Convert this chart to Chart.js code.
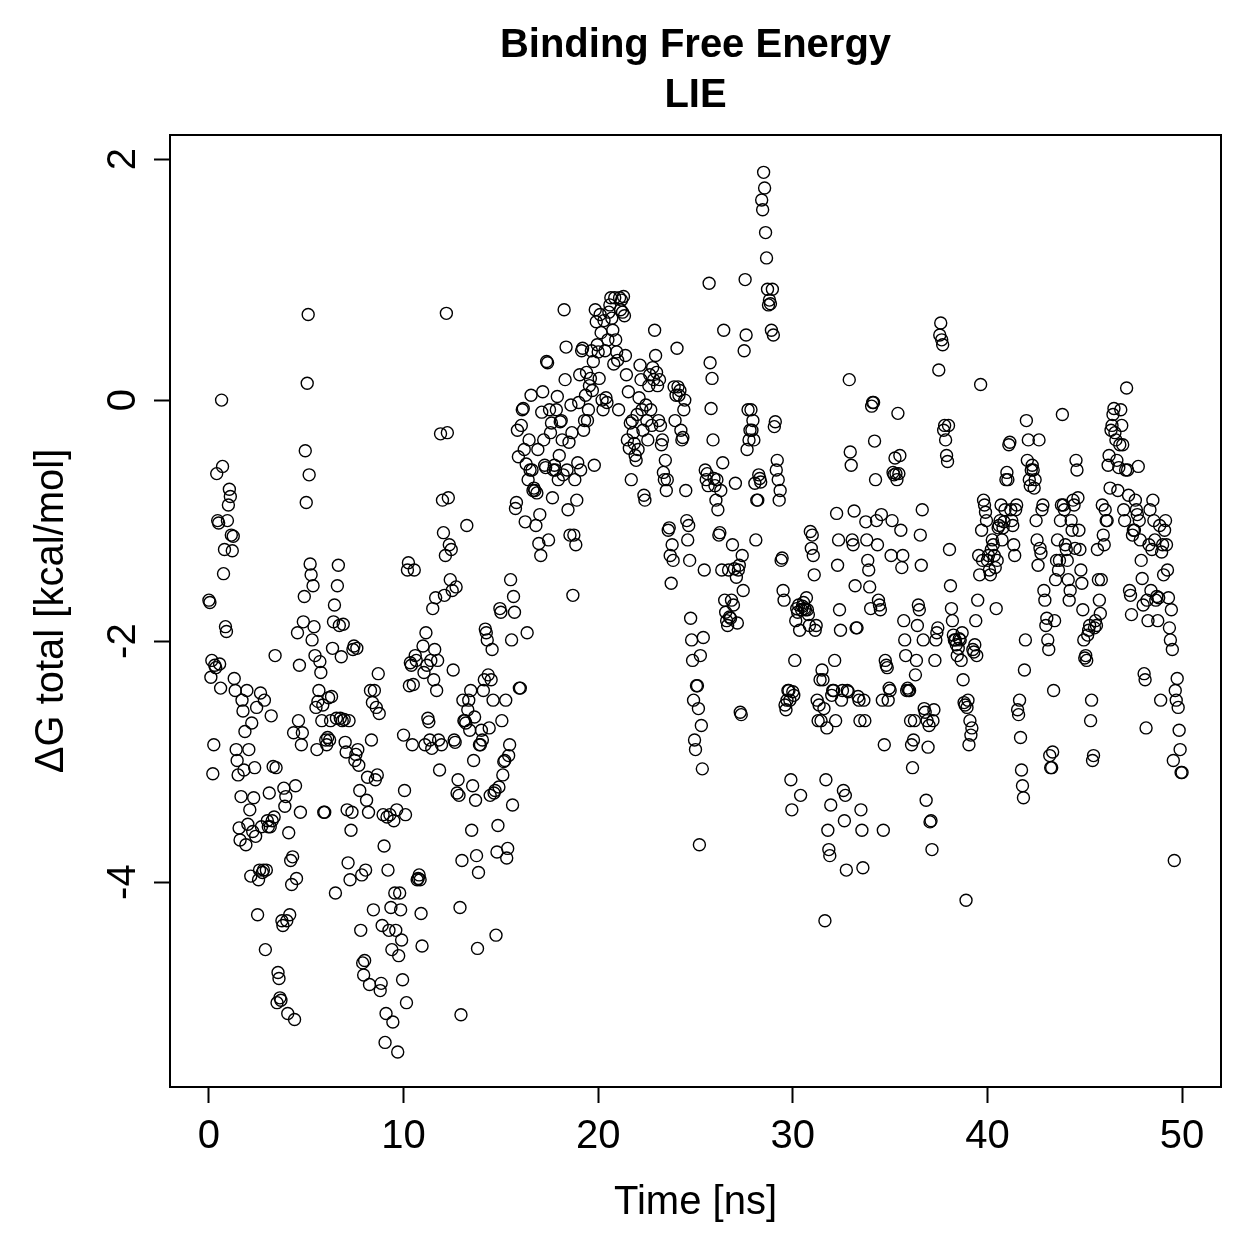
<!DOCTYPE html>
<html>
<head>
<meta charset="utf-8">
<script src="https://cdn.jsdelivr.net/npm/chart.js@4.4.1/dist/chart.umd.min.js"></script>
<style>
  html, body { margin: 0; padding: 0; background: #fff; }
  #wrap { width: 1259px; height: 1259px; }
</style>
</head>
<body>
<div id="wrap"><canvas id="lie" width="1259" height="1259"></canvas></div>
<script>
// LIE binding free energy, one value every 0.05 ns
const timeStep = 0.05;

// roughly 0 - 10.5 ns
const dG_part1 = [
  -1.66,-1.68,-2.30,-2.16,-3.10,-2.86,-2.20,-2.22,-0.61,-1.00,-1.02,-2.19,-2.39,0.00,-0.55,-1.44,-1.24,-1.88,-1.92,-1.00,
  -0.87,-0.74,-0.80,-1.12,-1.25,-1.13,-2.31,-2.41,-2.90,-2.99,-3.11,-3.55,-3.65,-3.29,-2.49,-2.58,-3.07,-2.75,-3.69,-2.41,
  -3.52,-2.90,-3.40,-3.95,-2.68,-3.58,-3.30,-3.05,-3.62,-2.55,
  -4.27,-3.98,-3.90,-2.43,-3.54,-3.92,-3.90,-2.49,-4.56,-3.90,-3.49,-3.54,-3.26,-3.54,-2.62,-3.49,-3.04,-3.46,-2.12,-3.05,
  -5.00,-4.75,-4.80,-4.96,-4.98,-4.32,-4.36,-3.22,-3.37,-3.29,-4.32,-5.09,-3.59,-4.27,-3.82,-4.02,-3.79,-2.76,-5.14,-3.20,
  -3.97,-1.93,-2.66,-2.20,-3.42,-2.86,-2.76,-1.84,-1.63,-0.42,-0.85,0.14,0.71,-0.62,-1.36,-1.45,-1.99,-1.54,-1.88,-2.12,
  -2.55,-2.90,-2.50,-2.41,-2.17,-2.26,-2.66,-2.53,-3.42,-3.42,-2.82,-2.86,-2.80,-2.47,-2.82,-2.66,-2.46,-2.06,-1.84,-1.70,
  -4.09,-2.64,-1.54,-1.37,-1.87,-2.64,-2.13,-2.66,-1.86,-2.65,-2.84,-2.92,-3.40,-3.84,-2.66,-3.98,-3.57,-3.42,-2.07,-2.04,
  -2.99,-2.94,-2.06,-2.90,-3.03,-3.24,-4.40,-3.94,-4.67,-4.77,-4.65,-3.90,-3.32,-3.13,-3.42,-4.85,-2.41,-2.82,-2.51,-4.23,
  -2.41,-3.15,-2.55,-3.11,-2.27,-2.60,-4.90,-4.84,-4.36,-3.44,-3.70,-5.33,-5.09,-3.46,-3.90,-4.40,-3.44,-4.21,-4.56,-5.16,
  -3.49,-4.09,-4.40,-3.40,-5.41,-4.61,-4.09,-4.23,-4.48,-4.81,-2.78,-3.24,-3.44,-5.00,-1.41,-1.35,-2.37,-2.18,-2.20,-2.86
];

// roughly 10.5 - 20.5 ns
const dG_part2 = [
  -2.36,-1.41,-2.12,-2.16,-3.98,-3.97,-3.94,-3.98,-4.26,-4.53,-2.04,-2.26,-2.86,-1.93,-2.20,-2.64,-2.67,-2.82,-2.16,-2.89,
  -1.73,-2.32,-2.07,-1.64,-2.41,-2.16,-2.82,-3.07,-0.28,-2.86,-0.83,-1.10,-1.62,-1.29,0.72,-0.27,-0.81,-1.20,-1.49,-1.24,
  -1.58,-2.24,-2.82,-2.84,-1.55,-3.26,-3.15,-3.28,-4.21,-5.10,-3.82,-2.49,-2.66,-2.66,-2.68,-1.04,-2.57,-2.49,-2.74,-2.41,
  -3.57,-3.20,-2.99,-2.63,-3.32,-3.78,-4.55,-3.92,-2.86,-2.86,-2.74,-2.82,-2.41,-2.32,-1.90,-1.93,-1.99,-2.28,-2.72,-3.28,
  -2.32,-2.07,-2.49,-3.26,-3.24,-4.44,-3.75,-3.53,-3.21,-1.73,-1.76,-2.66,-3.11,-3.00,-2.99,-2.49,-3.80,-3.72,-2.95,-2.86,
  -1.49,-1.99,-3.36,-1.63,-1.76,-0.90,-0.85,-0.25,-0.47,-2.39,-2.39,-0.21,-0.08,-0.07,-0.41,-1.01,-0.53,-1.93,-0.66,-0.33,
  -0.58,0.04,-0.58,-0.75,-0.73,-0.75,-1.04,-0.77,-0.41,-1.19,-0.95,-1.29,-0.10,0.07,-0.33,-0.54,-0.56,0.32,0.31,-1.16,
  -0.08,-0.27,-0.19,-0.81,-0.58,-0.54,-0.58,-0.08,0.03,-0.66,-0.46,-0.18,-0.17,-0.33,-0.62,0.75,0.17,0.44,-0.58,-0.91,
  -0.35,-1.12,-0.04,-0.27,-1.62,-1.12,-0.66,-1.20,-0.83,-0.52,-0.02,0.21,-0.58,0.41,0.43,-0.25,-0.17,0.04,0.23,-0.17,
  -0.08,0.12,0.18,0.41,0.08,0.32,-0.54,0.75,0.65,0.46,0.40,0.18,0.71,0.56,0.00,-0.08,0.66,0.41,0.02,-0.02
];

// roughly 20.5 - 30.5 ns
const dG_part3 = [
  0.50,0.73,0.79,0.85,0.68,0.58,0.30,0.85,0.50,0.40,0.33,-0.08,0.85,0.75,0.83,0.73,0.86,0.70,0.37,0.21,
  -0.33,0.07,-0.40,-0.19,-0.66,-0.17,-0.27,-0.36,-0.46,-0.50,-0.12,-0.41,0.02,0.29,0.17,-0.08,-0.25,-0.79,-0.83,-0.04,
  -0.17,-0.33,0.12,0.21,-0.08,-0.21,0.27,0.17,0.58,0.37,0.23,0.12,-0.17,0.17,-0.21,-0.37,-0.33,-0.60,-0.66,-0.50,
  -0.75,-0.66,-1.08,-1.06,-1.29,-1.52,-1.20,-1.33,0.11,-0.17,0.04,0.43,0.11,0.04,0.08,-0.25,-0.33,-0.31,-0.08,0.00,
  -0.75,-1.00,-1.16,-1.04,-1.33,-1.81,-1.99,-2.16,-2.49,-2.82,-2.90,-2.37,-2.37,-2.56,-3.69,-2.12,-2.70,-3.06,-1.97,-1.41,
  -0.58,-0.66,-0.61,-0.71,0.97,0.31,-0.07,0.18,-0.33,-0.65,-0.71,-0.83,-0.66,-0.91,-1.12,-1.10,-0.75,-1.41,-0.52,0.58,
  -1.66,-1.76,-1.83,-1.87,-1.41,-1.80,-1.81,-1.66,-1.20,-1.70,-1.40,-0.69,-1.47,-1.85,-1.41,-1.37,-2.59,-2.61,-1.29,-1.58,
  0.41,1.00,0.54,-0.41,-0.08,-0.33,-0.25,-0.08,-0.25,-0.17,-0.33,-0.69,-1.16,-0.83,-0.83,-0.62,-0.65,-0.68,1.66,1.58,
  1.89,1.76,1.39,1.18,0.92,0.79,0.83,0.80,0.58,0.92,0.54,-0.22,-0.18,-0.58,-0.50,-0.66,-0.83,-0.75,-1.33,-1.31,
  -1.58,-1.66,-2.53,-2.57,-2.49,-2.41,-2.41,-2.49,-3.15,-3.40,-2.42,-2.45,-2.16,-1.83,-1.73,-1.76,-1.70,-1.91,-3.28,-1.74
];

// roughly 30.5 - 40.5 ns
const dG_part4 = [
  -1.71,-1.68,-1.73,-1.74,-1.64,-1.74,-1.78,-1.87,-1.09,-1.23,-1.12,-1.29,-1.45,-1.91,-1.87,-2.49,-2.66,-2.53,-2.32,-2.66,
  -2.24,-2.32,-2.56,-4.32,-3.15,-2.72,-3.57,-3.73,-3.78,-3.36,-2.45,-2.41,-2.41,-2.16,-2.66,-0.94,-1.37,-1.16,-1.74,-1.91,
  -2.49,-2.41,-3.24,-3.49,-3.28,-3.90,-2.41,-2.42,0.17,-0.43,-0.54,-1.16,-1.20,-0.92,-1.54,-1.89,-1.89,-2.46,-2.49,-2.66,
  -3.40,-3.57,-3.88,-2.49,-2.66,-1.01,-1.16,-1.33,-1.41,-1.55,-1.73,-0.05,-0.02,-0.02,-0.34,-0.66,-1.00,-1.20,-1.66,-1.70,
  -1.74,-0.95,-2.49,-3.57,-2.86,-2.16,-2.20,-2.22,-2.49,-2.39,-2.41,-1.29,-1.00,-0.60,-0.62,-0.48,-0.61,-0.66,-0.11,-0.61,
  -0.46,-1.08,-1.39,-1.29,-1.83,-1.99,-2.12,-2.41,-2.39,-2.41,-2.41,-2.66,-2.86,-3.05,-2.82,-2.66,-2.28,-2.16,-1.87,-1.70,
  -1.74,-1.12,-1.37,-0.91,-1.99,-2.56,-2.59,-3.32,-2.66,-2.88,-2.70,-3.50,-3.49,-3.73,-2.66,-2.57,-2.16,-1.99,-1.93,-1.89,
  0.25,0.54,0.64,0.50,0.46,-0.25,-0.21,-0.33,-0.46,-0.51,-0.21,-1.24,-1.54,-1.73,-1.83,-1.95,-1.99,-1.99,-2.03,-2.12,
  -2.06,-1.98,-1.99,-2.16,-1.93,-2.32,-2.51,-2.53,-4.15,-2.55,-2.49,-2.86,-2.66,-2.78,-2.72,-2.07,-2.09,-2.03,-1.83,-2.12,
  -1.66,-1.29,-1.45,0.13,-1.08,-1.33,-0.83,-0.87,-0.93,-1.00,-1.33,-1.29,-1.41,-1.45,-1.24,-1.16,-1.20,-1.29,-1.39,-1.73
];

// roughly 40.5 - 50 ns
const dG_part5 = [
  -1.33,-1.06,-1.04,-1.00,-0.87,-1.16,-1.06,-1.01,-0.91,-0.66,-0.60,-0.66,-0.37,-0.35,-0.91,-1.00,-1.04,-1.20,-1.29,-0.91,
  -0.87,-2.57,-2.61,-2.49,-2.80,-3.07,-3.20,-3.30,-2.24,-1.99,-0.17,-0.50,-0.33,-0.66,-0.71,-0.58,-0.54,-0.58,-0.73,-0.66,
  -1.00,-1.16,-1.37,-0.33,-1.23,-1.27,-0.91,-0.87,-1.58,-1.66,-1.87,-1.81,-1.99,-2.07,-2.95,-3.05,-3.05,-2.92,-2.41,-1.83,
  -1.49,-1.33,-1.16,-1.41,-1.33,-1.00,-0.87,-0.12,-0.87,-0.91,-1.20,-1.24,-1.33,-1.49,-1.66,-1.58,-1.00,-1.08,-0.83,-0.87,
  -1.23,-0.50,-0.58,-0.81,-1.08,-1.24,-1.41,-1.52,-1.74,-1.99,-2.14,-2.12,-2.16,-1.95,-1.91,-1.87,-2.66,-2.49,-2.99,-2.95,
  -1.89,-1.83,-1.87,-1.24,-1.49,-1.66,-1.77,-1.49,-0.87,-1.12,-1.20,-0.91,-1.00,-1.00,-0.54,-0.46,-0.73,-0.25,-0.21,-0.12,
  -0.07,-0.27,-0.33,-0.50,-0.75,-0.56,-0.37,-0.08,-0.21,-0.37,-0.91,-1.00,-0.58,0.10,-0.58,-0.79,-1.58,-1.62,-1.78,-1.12,
  -1.08,-1.08,-0.83,-0.91,-0.95,-0.55,-1.00,-1.16,-1.33,-1.48,-1.70,-2.27,-2.32,-2.72,-1.66,-1.83,-1.20,-0.91,-1.58,-1.24,
  -0.83,-1.00,-1.16,-1.66,-1.63,-1.83,-1.64,-1.04,-2.49,-1.26,-1.20,-1.45,-1.08,-1.00,-1.20,-1.41,-1.64,-1.89,-1.99,-1.74,
  -2.07,-2.99,-3.82,-2.41,-2.49,-2.31,-2.55,-2.74,-2.90,-3.09,-3.09
];

const xTicks = [0, 10, 20, 30, 40, 50];
const yTicks = [2, 0, -2, -4];
const yTickLabels = ['2', '0', '-2', '-4'];

const dG = [...dG_part1, ...dG_part2, ...dG_part3, ...dG_part4, ...dG_part5];
const time = dG.map((_, i) => +(i * timeStep).toFixed(2));
const points = dG.map((v, i) => ({ x: time[i], y: v }));

const FONT = '"Liberation Sans", Arial, Helvetica, sans-serif';

// box, title and rotated y labels drawn like base R graphics
const rStyle = {
  id: 'rStyle',
  afterDraw(chart) {
    const { ctx, chartArea: a, scales } = chart;
    ctx.save();
    ctx.strokeStyle = '#000';
    ctx.lineWidth = 2;
    ctx.strokeRect(a.left, a.top, a.right - a.left, a.bottom - a.top);

    const cx = (a.left + a.right) / 2;
    ctx.fillStyle = '#000';
    ctx.textAlign = 'center';
    ctx.textBaseline = 'middle';
    ctx.font = 'bold 40px ' + FONT;
    ctx.fillText('Binding Free Energy', cx, 46);
    ctx.fillText('LIE', cx, 96);

    ctx.font = '40px ' + FONT;
    yTicks.forEach((v, i) => {
      const py = scales.y.getPixelForValue(v);
      ctx.save();
      ctx.translate(124, py);
      ctx.rotate(-Math.PI / 2);
      ctx.fillText(yTickLabels[i], 0, 0);
      ctx.restore();
    });
    ctx.restore();
  }
};

new Chart(document.getElementById('lie'), {
  type: 'scatter',
  data: {
    datasets: [{
      data: points,
      pointStyle: 'circle',
      pointRadius: 6,
      pointHoverRadius: 6,
      borderColor: '#000',
      backgroundColor: 'rgba(0,0,0,0)',
      borderWidth: 1.4
    }]
  },
  options: {
    responsive: false,
    animation: false,
    devicePixelRatio: 1,
    layout: { padding: { top: 135, right: 38, left: 0, bottom: 0 } },
    plugins: {
      legend: { display: false },
      tooltip: { enabled: false }
    },
    scales: {
      x: {
        type: 'linear',
        min: -2,
        max: 52,
        afterBuildTicks: s => { s.ticks = xTicks.map(v => ({ value: v })); },
        afterFit: s => { s.height = 172; },
        grid: { drawOnChartArea: false, drawTicks: true, tickLength: 16, tickColor: '#000', tickWidth: 2 },
        border: { display: true, color: '#000', width: 2 },
        ticks: { color: '#000', font: { family: FONT, size: 40 }, padding: 10, maxRotation: 0 },
        title: { display: true, text: 'Time [ns]', color: '#000', font: { family: FONT, size: 40 }, padding: { top: 0, bottom: 32 } }
      },
      y: {
        type: 'linear',
        min: -5.70,
        max: 2.20,
        afterBuildTicks: s => { s.ticks = yTicks.map(v => ({ value: v })); },
        afterFit: s => { s.width = 170; },
        grid: { drawOnChartArea: false, drawTicks: true, tickLength: 16, tickColor: '#000', tickWidth: 2 },
        border: { display: true, color: '#000', width: 2 },
        ticks: { color: 'rgba(0,0,0,0)', font: { family: FONT, size: 40 } },
        title: { display: true, text: 'ΔG total [kcal/mol]', color: '#000', font: { family: FONT, size: 40 }, padding: { top: 28, bottom: 0 } }
      }
    }
  },
  plugins: [rStyle]
});
</script>
</body>
</html>
